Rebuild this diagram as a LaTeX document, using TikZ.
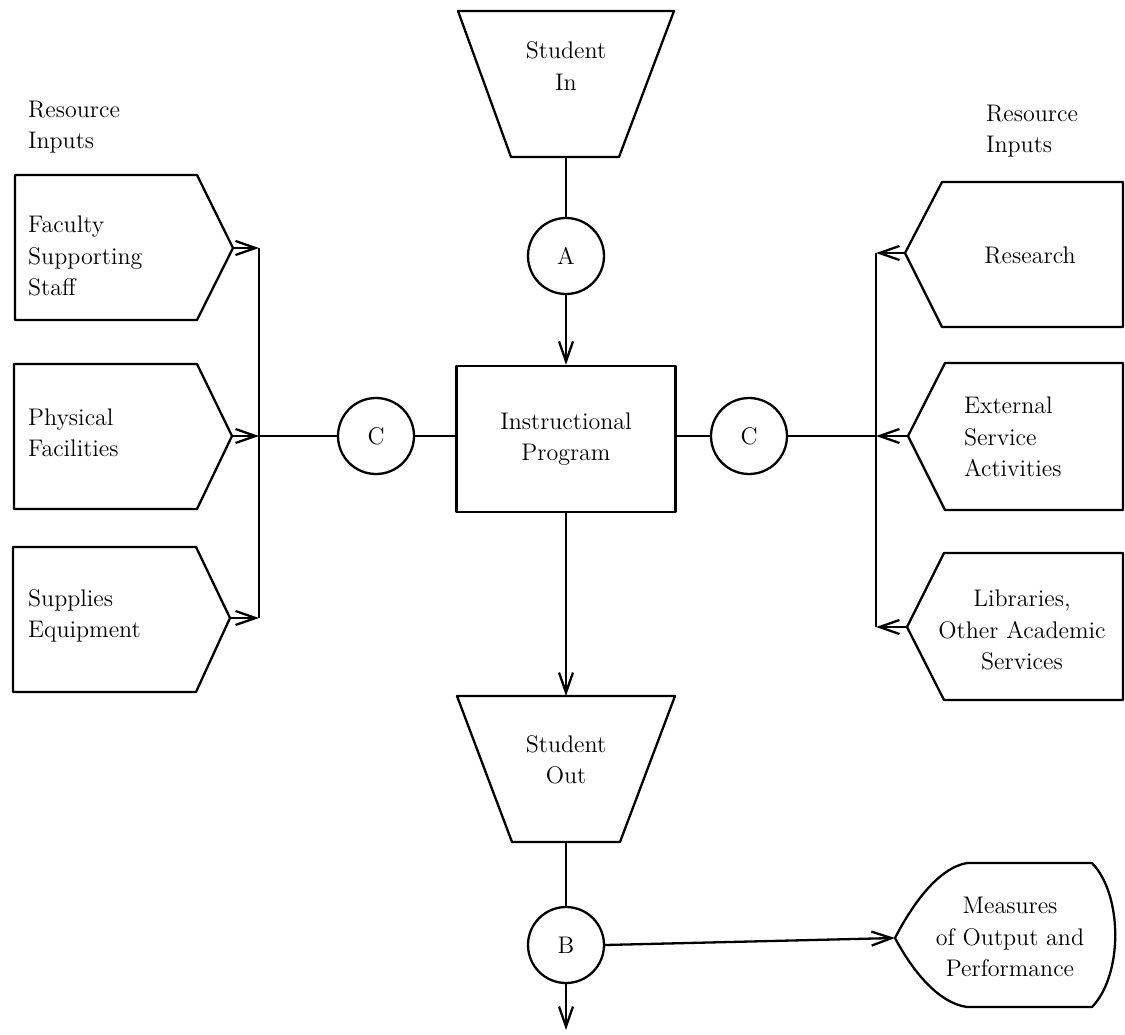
\documentclass[tikz,border=0pt]{standalone}
\usetikzlibrary{arrows.meta,calc}
\begin{document}
\begin{tikzpicture}[x=0.5pt,y=-0.5pt,
  line width=1.15pt, line join=round,
  txt/.style={font=\fontsize{12}{15.75}\selectfont, inner sep=0pt},
  lbl/.style={txt, align=left, anchor=west},
  ctr/.style={txt, align=center},
  joint/.style={draw, circle, minimum size=38pt, inner sep=0pt, font=\fontsize{12}{14}\selectfont},
  prog/.style={draw, minimum width=109.5pt, minimum height=73pt, inner sep=0pt,
               align=center, font=\fontsize{12}{15.75}\selectfont},
  flow/.style={-{Straight Barb[length=10pt,width=7pt]}},
]
\useasboundingbox (0,0) rectangle (1125,1034);

% ---------- centre column ----------
\draw (458,11) -- (674,11) -- (619,157) -- (511,157) -- cycle;
\node[ctr] (sinT) at (566,66) {Student\\In};
\coordinate (sinBot) at (566,157);

\node[joint] (A) at (566,256) {A};
\node[prog] (prog) at (566,439) {Instructional\\Program};

\draw (457,696) -- (675,696) -- (620,842) -- (512,842) -- cycle;
\node[ctr] (soutT) at (566,760) {Student\\Out};
\coordinate (soutTop) at (566,696);
\coordinate (soutBot) at (566,842);

\node[joint] (B) at (566,945) {B};
\coordinate (exitEnd) at (566,1030);

\draw (sinBot) -- (A.north);
\draw[flow] (A.south) -- (prog.north);
\draw[flow] (prog.south) -- (soutTop);
\draw (soutBot) -- (B.north);
\draw[flow] (B.south) -- (exitEnd);

% ---------- left resource inputs ----------
\node[lbl] (resL) at (27,127) {Resource\\Inputs};

\draw (15,175) -- (197,175) -- (233,248) -- (197,320) -- (15,320) -- cycle;
\coordinate (facTip) at (233,248);
\node[lbl] (facT) at (27,256) {Faculty\\Supporting\\Staff};

\draw (14,364) -- (197,364) -- (232,436) -- (197,509) -- (14,509) -- cycle;
\coordinate (phyTip) at (232,436);
\node[lbl] (phyT) at (27,433) {Physical\\Facilities};

\draw (13,547) -- (196,547) -- (230,618) -- (196,692) -- (13,692) -- cycle;
\coordinate (supTip) at (230,618);
\node[lbl] (supT) at (27,616) {Supplies\\Equipment};

\coordinate (lbusTop) at (259,248);
\coordinate (lbusMid) at (259,436);
\coordinate (lbusBot) at (259,618);
\draw (lbusTop) -- (lbusBot);
\draw[flow] (facTip) -- (lbusTop);
\draw[flow] (phyTip) -- (lbusMid);
\draw[flow] (supTip) -- (lbusBot);

\node[joint] (cL) at (376,436) {C};
\draw (lbusMid) -- (cL.west);
\draw (cL.east) -- (cL.east -| prog.west);

% ---------- right resource inputs ----------
\node[lbl] (resR) at (985,131) {Resource\\Inputs};

\draw (905,253) -- (942,182) -- (1123,182) -- (1123,327) -- (942,327) -- cycle;
\coordinate (resTip) at (905,253);
\node[ctr] (resT) at (1030,255) {Research};

\draw (908,436) -- (945,363) -- (1123,363) -- (1123,510) -- (945,510) -- cycle;
\coordinate (extTip) at (908,436);
\node[lbl] (extT) at (963,437) {External\\Service\\Activities};

\draw (907,627) -- (944,553) -- (1123,553) -- (1123,700) -- (944,700) -- cycle;
\coordinate (libTip) at (907,627);
\node[ctr] (libT) at (1022,630) {Libraries,\\Other Academic\\Services};

\coordinate (rbusTop) at (876,253);
\coordinate (rbusMid) at (876,436);
\coordinate (rbusBot) at (876,627);
\draw (rbusTop) -- (rbusBot);
\draw[flow] (resTip) -- (rbusTop);
\draw[flow] (extTip) -- (rbusMid);
\draw[flow] (libTip) -- (rbusBot);

\node[joint] (cR) at (749,436) {C};
\draw (cR.west -| prog.east) -- (cR.west);
\draw (cR.east) -- (rbusMid);

% ---------- output measures ----------
\coordinate (measTip) at (895,938);
\draw (measTip) .. controls (912,905) and (938,868) .. (967,863)
      -- (1092,863) .. controls (1123,895) and (1123,975) .. (1092,1007)
      -- (967,1007) .. controls (938,1003) and (912,970) .. (measTip) -- cycle;
\node[ctr] (measT) at (1010,937) {Measures\\of Output and\\Performance};
\draw[flow] (B.east) -- (measTip);

\end{tikzpicture}
\end{document}
